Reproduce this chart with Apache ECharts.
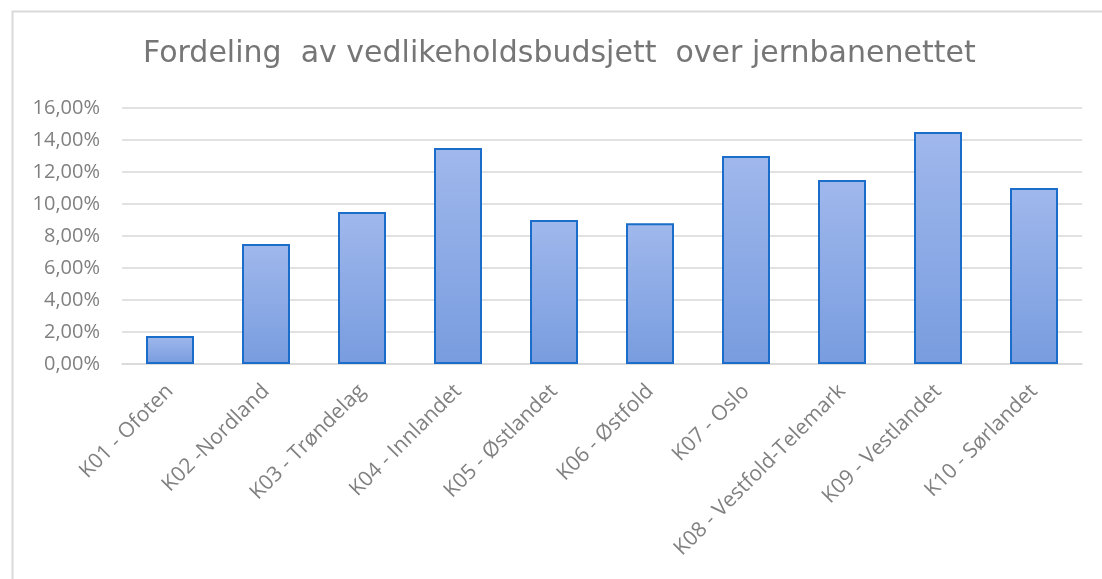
<!DOCTYPE html>
<html>
<head>
<meta charset="utf-8">
<script src="https://cdn.jsdelivr.net/npm/echarts@6/dist/echarts.min.js"></script>
<style>
html,body{margin:0;padding:0;background:#fff;}
#c{width:1102px;height:579px;}
</style>
</head>
<body>
<div id="c"></div>
<script>
const titleText = "Fordeling  av vedlikeholdsbudsjett  over jernbanenettet";
const categories = ["K01 - Ofoten","K02 -Nordland","K03 - Trøndelag","K04 - Innlandet","K05 - Østlandet","K06 - Østfold","K07 - Oslo","K08 - Vestfold-Telemark","K09 - Vestlandet","K10 - Sørlandet"];
const values = [1.75, 7.5, 9.5, 13.5, 9.0, 8.8, 13.0, 11.5, 14.5, 11.0];
const yMin = 0, yMax = 16, yStep = 2;

const chart = echarts.init(document.getElementById('c'), null, {renderer:'canvas'});
chart.setOption({
  animation:false,
  backgroundColor:'#ffffff',
  graphic:[{
    type:'rect', left:10, top:9,
    shape:{width:1200, height:700},
    style:{fill:'none', stroke:'#d9d9d9', lineWidth:2}
  }],
  title:{
    text:titleText, left:138, top:34,
    textStyle:{fontFamily:'DejaVu Sans', fontSize:30, fontWeight:'normal', color:'#767676'}
  },
  grid:{left:122, right:20, top:108, bottom:215, containLabel:false},
  xAxis:{
    type:'category', data:categories,
    axisLine:{show:true, lineStyle:{color:'#d9d9d9', width:1.5}},
    axisTick:{show:false},
    axisLabel:{rotate:45, interval:0, margin:24, fontFamily:'Open Sans', fontSize:21, color:'#808080'}
  },
  yAxis:{
    type:'value', min:yMin, max:yMax, interval:yStep,
    axisLine:{show:false}, axisTick:{show:false},
    splitLine:{lineStyle:{color:'#d9d9d9', width:1.5}},
    axisLabel:{margin:22, fontFamily:'Open Sans', fontSize:20, color:'#808080',
      formatter:v=>v.toFixed(2).replace('.',',')+'%'}
  },
  series:[{
    type:'bar', data:values, barWidth:'50%',
    itemStyle:{
      color:new echarts.graphic.LinearGradient(0,0,0,1,[{offset:0,color:'#a0b8ec'},{offset:1,color:'#789cdf'}]),
      borderColor:'#1a6dc9', borderWidth:2
    }
  }]
});
</script>
</body>
</html>
